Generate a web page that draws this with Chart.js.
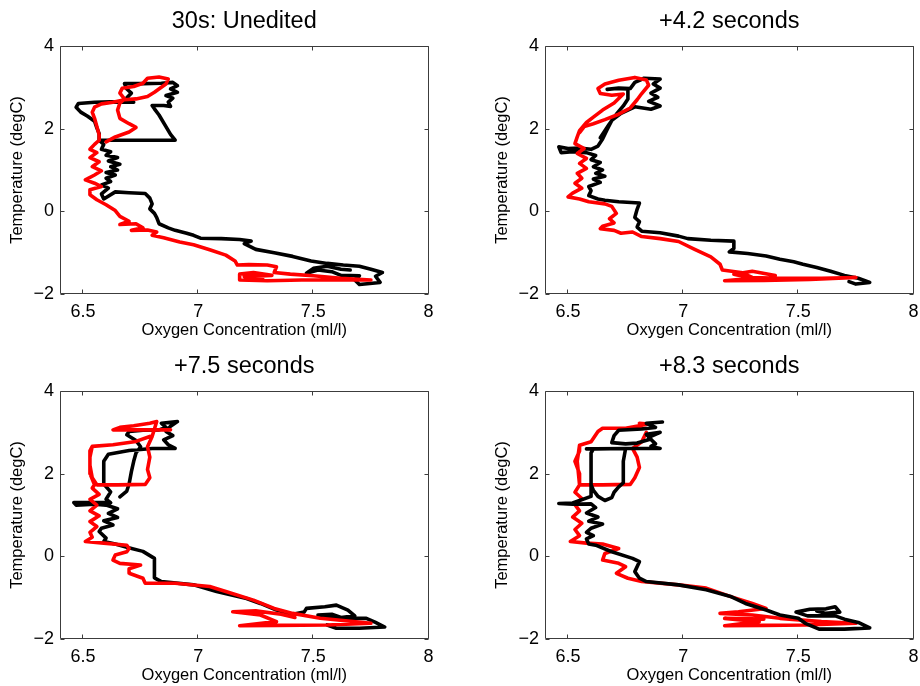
<!DOCTYPE html>
<html>
<head>
<meta charset="utf-8">
<script src="https://cdn.jsdelivr.net/npm/chart.js@4.4.1/dist/chart.umd.min.js"></script>
<style>
  body { margin: 0; width: 920px; height: 686px; overflow: hidden; background: #fff; }
  canvas { position: absolute; }
</style>
</head>
<body>
<canvas id="c1" width="441" height="344" style="left:0px;top:0px"></canvas>
<canvas id="c2" width="441" height="344" style="left:485px;top:0px"></canvas>
<canvas id="c3" width="441" height="344" style="left:0px;top:345px"></canvas>
<canvas id="c4" width="441" height="344" style="left:485px;top:345px"></canvas>
<script>
// axis ticks
const xTicks = [6.5, 7, 7.5, 8];
const yTicks = [-2, 0, 2, 4];

const panelTitles = ["30s: Unedited", "+4.2 seconds", "+7.5 seconds", "+8.3 seconds"];

// [oxygen, temperature] pairs
const uneditedBlack = [
  [6.72,2.64],[6.62,2.65],[6.55,2.64],[6.48,2.61],[6.47,2.52],[6.49,2.40],[6.52,2.30],[6.55,2.18],[6.56,2.02],
  [6.57,1.88],[6.57,1.72],[6.66,1.72],[6.78,1.72],[6.90,1.72],[6.88,1.86],[6.86,2.05],[6.83,2.33],[6.81,2.48],
  [6.80,2.56],[6.85,2.56],[6.88,2.54],[6.87,2.64],[6.89,2.74],[6.86,2.80],[6.91,2.88],[6.88,2.96],[6.91,3.04],
  [6.89,3.12],[6.84,3.10],[6.76,3.09],[6.68,3.09],[6.69,2.96],[6.71,2.86],[6.69,2.75],[6.72,2.64],[6.55,2.64],
  [6.48,2.61],[6.47,2.52],[6.49,2.40],[6.52,2.30],[6.55,2.18],[6.56,2.02],[6.57,1.88],[6.57,1.72],[6.59,1.62],
  [6.58,1.50],[6.62,1.44],[6.60,1.36],[6.65,1.30],[6.61,1.22],[6.66,1.14],[6.62,1.08],[6.65,1.00],[6.60,0.94],
  [6.64,0.88],[6.60,0.80],[6.62,0.72],[6.58,0.64],[6.61,0.56],[6.58,0.42],[6.59,0.30],[6.64,0.47],[6.70,0.45],
  [6.77,0.43],[6.79,0.32],[6.80,0.18],[6.79,0.06],[6.81,-0.05],[6.82,-0.15],[6.83,-0.30],[6.87,-0.40],[6.90,-0.46],
  [6.95,-0.53],[6.98,-0.58],[7.01,-0.65],[7.10,-0.66],[7.18,-0.68],[7.23,-0.72],[7.20,-0.78],[7.25,-0.92],
  [7.33,-1.00],[7.41,-1.09],[7.49,-1.20],[7.56,-1.26],[7.63,-1.30],[7.70,-1.33],[7.75,-1.40],[7.80,-1.48],
  [7.77,-1.57],[7.79,-1.72],[7.70,-1.77],[7.68,-1.66],[7.70,-1.56],[7.62,-1.55],[7.58,-1.46],[7.52,-1.42],
  [7.47,-1.50],[7.50,-1.38],[7.56,-1.33],[7.62,-1.40],[7.66,-1.42]
];
const uneditedRed = [
  [6.60,1.68],[6.64,1.80],[6.70,1.92],[6.73,2.03],[6.70,2.12],[6.66,2.25],[6.65,2.45],[6.66,2.62],[6.68,2.72],
  [6.66,2.86],[6.67,2.98],[6.72,3.02],[6.76,3.10],[6.78,3.22],[6.83,3.25],[6.87,3.20],[6.86,3.08],[6.84,3.00],
  [6.81,2.88],[6.78,2.78],[6.73,2.72],[6.68,2.70],[6.63,2.64],[6.58,2.60],[6.55,2.52],[6.54,2.40],[6.55,2.25],
  [6.56,2.05],[6.57,1.85],[6.57,1.72],[6.55,1.62],[6.53,1.50],[6.56,1.42],[6.53,1.30],[6.57,1.20],[6.54,1.08],
  [6.58,0.98],[6.55,0.88],[6.51,0.76],[6.55,0.68],[6.58,0.60],[6.53,0.52],[6.53,0.40],[6.56,0.28],[6.60,0.16],
  [6.64,0.02],[6.66,-0.12],[6.70,-0.24],[6.66,-0.32],[6.73,-0.30],[6.76,-0.40],[6.71,-0.46],[6.78,-0.45],
  [6.82,-0.50],[6.80,-0.58],[6.85,-0.64],[6.92,-0.74],[6.98,-0.81],[7.05,-0.93],[7.12,-1.06],[7.16,-1.20],
  [7.17,-1.30],[7.22,-1.29],[7.30,-1.30],[7.34,-1.34],[7.33,-1.48],[7.40,-1.52],[7.50,-1.56],[7.62,-1.62],
  [7.75,-1.66],[7.60,-1.66],[7.45,-1.66],[7.30,-1.68],[7.18,-1.66],[7.18,-1.52],[7.24,-1.48],[7.32,-1.55],
  [7.20,-1.58],[7.28,-1.62]
];

const plus42Black = [
  [6.64,1.78],[6.66,1.95],[6.68,2.12],[6.71,2.35],[6.74,2.55],[6.76,2.72],[6.76,2.96],[6.70,2.97],[6.67,2.95],
  [6.72,2.98],[6.77,2.97],[6.79,3.12],[6.83,3.22],[6.90,3.20],[6.87,3.08],[6.90,2.98],[6.86,2.86],[6.89,2.76],
  [6.85,2.66],[6.90,2.55],[6.86,2.47],[6.79,2.53],[6.73,2.37],[6.69,2.20],[6.67,1.98],[6.65,1.75],[6.63,1.58],
  [6.60,1.50],[6.55,1.53],[6.50,1.52],[6.46,1.56],[6.47,1.42],[6.52,1.44],[6.58,1.42],[6.62,1.35],[6.60,1.25],
  [6.64,1.18],[6.61,1.08],[6.65,1.00],[6.62,0.92],[6.66,0.85],[6.61,0.78],[6.64,0.70],[6.59,0.60],[6.60,0.50],
  [6.59,0.38],[6.63,0.30],[6.66,0.27],[6.72,0.23],[6.81,0.20],[6.80,0.05],[6.79,-0.15],[6.81,-0.25],[6.80,-0.38],
  [6.82,-0.48],[6.90,-0.52],[6.98,-0.60],[7.02,-0.66],[7.12,-0.70],[7.22,-0.72],[7.22,-0.90],[7.20,-0.98],
  [7.28,-1.02],[7.36,-1.08],[7.42,-1.16],[7.48,-1.22],[7.52,-1.28],[7.58,-1.36],[7.64,-1.45],[7.70,-1.55],
  [7.76,-1.62],[7.81,-1.72],[7.75,-1.76],[7.72,-1.70]
];
const plus42Red = [
  [6.55,1.90],[6.57,2.05],[6.61,2.12],[6.66,2.22],[6.72,2.35],[6.77,2.50],[6.80,2.70],[6.82,2.85],[6.85,3.05],
  [6.84,3.18],[6.79,3.24],[6.72,3.17],[6.66,3.08],[6.63,2.97],[6.64,2.85],[6.69,2.81],[6.74,2.84],[6.70,2.62],
  [6.65,2.45],[6.61,2.28],[6.58,2.15],[6.55,1.95],[6.54,1.80],[6.53,1.64],[6.57,1.52],[6.54,1.40],[6.58,1.28],
  [6.55,1.16],[6.58,1.04],[6.54,0.92],[6.56,0.80],[6.53,0.68],[6.56,0.56],[6.52,0.44],[6.50,0.35],[6.55,0.30],
  [6.59,0.23],[6.66,0.18],[6.69,0.12],[6.71,-0.05],[6.68,-0.18],[6.70,-0.28],[6.65,-0.36],[6.64,-0.42],
  [6.70,-0.46],[6.73,-0.53],[6.78,-0.50],[6.82,-0.61],[6.90,-0.66],[6.98,-0.73],[7.05,-0.92],[7.12,-1.10],
  [7.16,-1.28],[7.17,-1.42],[7.25,-1.48],[7.30,-1.60],[7.42,-1.62],[7.60,-1.62],[7.75,-1.60],[7.55,-1.65],
  [7.35,-1.67],[7.18,-1.68],[7.30,-1.62],[7.22,-1.52],[7.30,-1.45],[7.40,-1.55]
];

const plus75Black = [
  [6.66,1.44],[6.69,1.58],[6.70,1.75],[6.71,2.05],[6.72,2.30],[6.73,2.50],[6.75,2.65],[6.73,2.80],[6.69,2.94],
  [6.70,3.02],[6.76,3.05],[6.83,3.06],[6.86,3.12],[6.84,3.22],[6.91,3.26],[6.88,3.15],[6.86,3.02],[6.89,2.92],
  [6.85,2.82],[6.87,2.70],[6.90,2.61],[6.80,2.61],[6.70,2.56],[6.61,2.47],[6.59,2.30],[6.59,2.00],[6.59,1.75],
  [6.62,1.56],[6.60,1.38],[6.62,1.30],[6.55,1.30],[6.46,1.30],[6.47,1.24],[6.55,1.26],[6.60,1.24],[6.65,1.15],
  [6.61,1.04],[6.65,0.94],[6.59,0.86],[6.63,0.76],[6.58,0.68],[6.57,0.60],[6.60,0.44],[6.59,0.36],[6.64,0.30],
  [6.69,0.22],[6.76,0.12],[6.81,-0.05],[6.81,-0.30],[6.81,-0.52],[6.84,-0.61],[6.98,-0.69],[7.08,-0.85],
  [7.21,-1.02],[7.27,-1.14],[7.34,-1.30],[7.41,-1.40],[7.46,-1.35],[7.47,-1.26],[7.55,-1.22],[7.60,-1.18],
  [7.65,-1.30],[7.68,-1.44],[7.62,-1.48],[7.58,-1.40],[7.52,-1.42],[7.60,-1.50],[7.73,-1.50],[7.77,-1.60],
  [7.81,-1.71],[7.70,-1.74],[7.60,-1.74],[7.56,-1.66]
];
const plus75Red = [
  [6.88,3.06],[6.75,3.06],[6.63,3.06],[6.66,3.12],[6.72,3.16],[6.79,3.22],[6.82,3.26],[6.81,3.08],[6.80,2.90],
  [6.78,2.65],[6.79,2.40],[6.78,2.10],[6.79,1.90],[6.77,1.74],[6.65,1.73],[6.56,1.73],[6.54,1.90],[6.53,2.20],
  [6.53,2.55],[6.54,2.66],[6.63,2.70],[6.73,2.78],[6.79,2.90],[6.73,2.78],[6.63,2.70],[6.54,2.66],[6.53,2.40],
  [6.53,2.00],[6.55,1.73],[6.54,1.65],[6.57,1.50],[6.53,1.38],[6.56,1.24],[6.53,1.10],[6.57,0.98],[6.53,0.84],
  [6.56,0.72],[6.53,0.58],[6.54,0.46],[6.51,0.36],[6.59,0.32],[6.69,0.27],[6.70,0.19],[6.69,0.11],[6.64,0.03],
  [6.63,-0.09],[6.66,-0.17],[6.75,-0.21],[6.70,-0.30],[6.70,-0.41],[6.76,-0.53],[6.77,-0.65],[6.90,-0.65],
  [7.05,-0.73],[7.12,-0.85],[7.24,-1.06],[7.33,-1.26],[7.41,-1.38],[7.53,-1.50],[7.75,-1.62],[7.56,-1.66],
  [7.34,-1.67],[7.18,-1.68],[7.34,-1.58],[7.27,-1.42],[7.15,-1.34],[7.25,-1.32],[7.36,-1.40],[7.42,-1.48]
];

const plus83Black = [
  [6.91,3.25],[6.84,3.22],[6.88,3.12],[6.82,3.08],[6.72,3.05],[6.70,2.92],[6.69,2.75],[6.75,2.72],[6.80,2.74],
  [6.86,2.84],[6.84,2.95],[6.90,3.00],[6.85,2.88],[6.88,2.72],[6.86,2.66],[6.90,2.61],[6.75,2.61],[6.58,2.60],
  [6.62,2.60],[6.75,2.61],[6.74,2.30],[6.74,2.00],[6.74,1.78],[6.72,1.68],[6.70,1.55],[6.69,1.42],[6.66,1.35],
  [6.63,1.45],[6.61,1.60],[6.60,1.73],[6.60,2.10],[6.60,2.50],[6.61,2.60],[6.60,2.50],[6.60,2.10],[6.60,1.73],
  [6.60,1.45],[6.52,1.29],[6.46,1.28],[6.52,1.26],[6.60,1.27],[6.62,1.18],[6.58,1.05],[6.63,0.95],[6.59,0.85],
  [6.65,0.78],[6.60,0.68],[6.58,0.58],[6.61,0.50],[6.58,0.42],[6.59,0.30],[6.62,0.27],[6.69,0.11],[6.78,-0.05],
  [6.81,-0.13],[6.79,-0.37],[6.81,-0.53],[6.84,-0.61],[6.98,-0.69],[7.10,-0.81],[7.21,-0.98],[7.27,-1.14],
  [7.36,-1.30],[7.42,-1.42],[7.50,-1.50],[7.53,-1.62],[7.59,-1.76],[7.70,-1.76],[7.81,-1.73],[7.76,-1.60],
  [7.70,-1.52],[7.66,-1.44],[7.54,-1.44],[7.49,-1.35],[7.55,-1.28],[7.62,-1.27],[7.66,-1.22],[7.68,-1.35],
  [7.62,-1.38],[7.58,-1.32]
];
const plus83Red = [
  [6.84,3.00],[6.82,2.77],[6.78,2.61],[6.80,2.40],[6.81,2.15],[6.79,1.90],[6.77,1.74],[6.65,1.73],[6.55,1.73],
  [6.55,2.00],[6.53,2.30],[6.55,2.55],[6.55,2.69],[6.60,2.77],[6.63,3.02],[6.65,3.10],[6.75,3.10],[6.82,3.12],
  [6.81,3.22],[6.85,3.20],[6.75,3.10],[6.65,3.10],[6.63,3.02],[6.60,2.77],[6.55,2.69],[6.54,2.30],[6.55,1.73],
  [6.53,1.55],[6.56,1.40],[6.53,1.25],[6.55,1.10],[6.52,0.95],[6.56,0.80],[6.53,0.65],[6.55,0.50],[6.51,0.36],
  [6.58,0.32],[6.65,0.30],[6.72,0.19],[6.66,0.07],[6.65,-0.09],[6.72,-0.17],[6.75,-0.25],[6.71,-0.41],
  [6.76,-0.53],[6.82,-0.61],[6.98,-0.69],[7.10,-0.77],[7.21,-0.98],[7.30,-1.14],[7.36,-1.26],[7.24,-1.34],
  [7.16,-1.38],[7.30,-1.42],[7.42,-1.50],[7.60,-1.58],[7.75,-1.62],[7.53,-1.66],[7.35,-1.67],[7.18,-1.68],
  [7.33,-1.58],[7.18,-1.50],[7.35,-1.52]
];

Chart.defaults.font.family = '"Liberation Sans", Arial, Helvetica, sans-serif';
Chart.defaults.color = "#000";

// matlab style box with inward ticks on all four sides
const frameTicks = {
  id: "frameTicks",
  afterDatasetsDraw(chart) {
    const ctx = chart.ctx;
    const a = chart.chartArea;
    const xs = chart.scales.x, ys = chart.scales.y;
    const L = Math.round(a.left) + 0.5, R = Math.round(a.right) - 0.5;
    const T = Math.round(a.top) + 0.5, B = Math.round(a.bottom) - 0.5;
    ctx.save();
    ctx.strokeStyle = "#3c3c3c";
    ctx.lineWidth = 1;
    ctx.beginPath();
    ctx.rect(L, T, R - L, B - T);
    xs.ticks.forEach(t => {
      const px = Math.round(xs.getPixelForValue(t.value)) - 0.5;
      ctx.moveTo(px, B); ctx.lineTo(px, B - 4);
      ctx.moveTo(px, T); ctx.lineTo(px, T + 4);
    });
    ys.ticks.forEach(t => {
      const py = Math.round(ys.getPixelForValue(t.value)) + 0.5;
      ctx.moveTo(L, py); ctx.lineTo(L + 4, py);
      ctx.moveTo(R, py); ctx.lineTo(R - 4, py);
    });
    ctx.stroke();
    ctx.restore();
  }
};

function toPoints(list) {
  return list.map(p => ({ x: p[0], y: p[1] }));
}

function makePanel(id, title, blackPts, redPts, blackOnTop) {
  new Chart(document.getElementById(id).getContext("2d"), {
    type: "scatter",
    data: {
      datasets: [
        {
          data: toPoints(blackPts),
          borderColor: "#000",
          order: blackOnTop ? 0 : 1
        },
        {
          data: toPoints(redPts),
          borderColor: "#ff0000",
          order: blackOnTop ? 1 : 0
        }
      ]
    },
    options: {
      responsive: false,
      animation: false,
      events: [],
      layout: { padding: { left: 0, right: 12.5, top: 0, bottom: 0 } },
      elements: {
        point: { radius: 0 },
        line: { borderWidth: 3.6, tension: 0, fill: false, borderJoinStyle: "round", borderCapStyle: "round" }
      },
      datasets: { scatter: { showLine: true } },
      plugins: {
        legend: { display: false },
        tooltip: { enabled: false },
        title: {
          display: true,
          text: title,
          fullSize: false,
          color: "#000",
          font: { size: 23.5, weight: "normal" },
          padding: { top: 7.6, bottom: 10.2 }
        }
      },
      scales: {
        x: {
          type: "linear",
          min: 6.4,
          max: 8,
          afterBuildTicks: s => { s.ticks = xTicks.map(v => ({ value: v })); },
          afterFit: s => { s.height = 50; },
          grid: { display: false, drawTicks: false },
          border: { display: false },
          ticks: { font: { size: 18 }, color: "#000", padding: 7, maxRotation: 0, autoSkip: false,
                   callback: v => String(v) },
          title: { display: true, text: "Oxygen Concentration (ml/l)", color: "#000",
                   font: { size: 16.5 }, padding: { top: 0, bottom: 4 } }
        },
        y: {
          type: "linear",
          min: -2,
          max: 4,
          afterBuildTicks: s => { s.ticks = yTicks.map(v => ({ value: v })); },
          afterFit: s => { s.width = 60; },
          grid: { display: false, drawTicks: false },
          border: { display: false },
          ticks: { font: { size: 18 }, color: "#000", padding: 6,
                   callback: v => String(v).replace("-", "\u2212") },
          title: { display: true, text: "Temperature (degC)", color: "#000",
                   font: { size: 16.5 }, padding: { top: 8, bottom: 0 } }
        }
      }
    },
    plugins: [frameTicks]
  });
}

makePanel("c1", panelTitles[0], uneditedBlack, uneditedRed, false);
makePanel("c2", panelTitles[1], plus42Black, plus42Red, false);
makePanel("c3", panelTitles[2], plus75Black, plus75Red, false);
makePanel("c4", panelTitles[3], plus83Black, plus83Red, true);
</script>
</body>
</html>
